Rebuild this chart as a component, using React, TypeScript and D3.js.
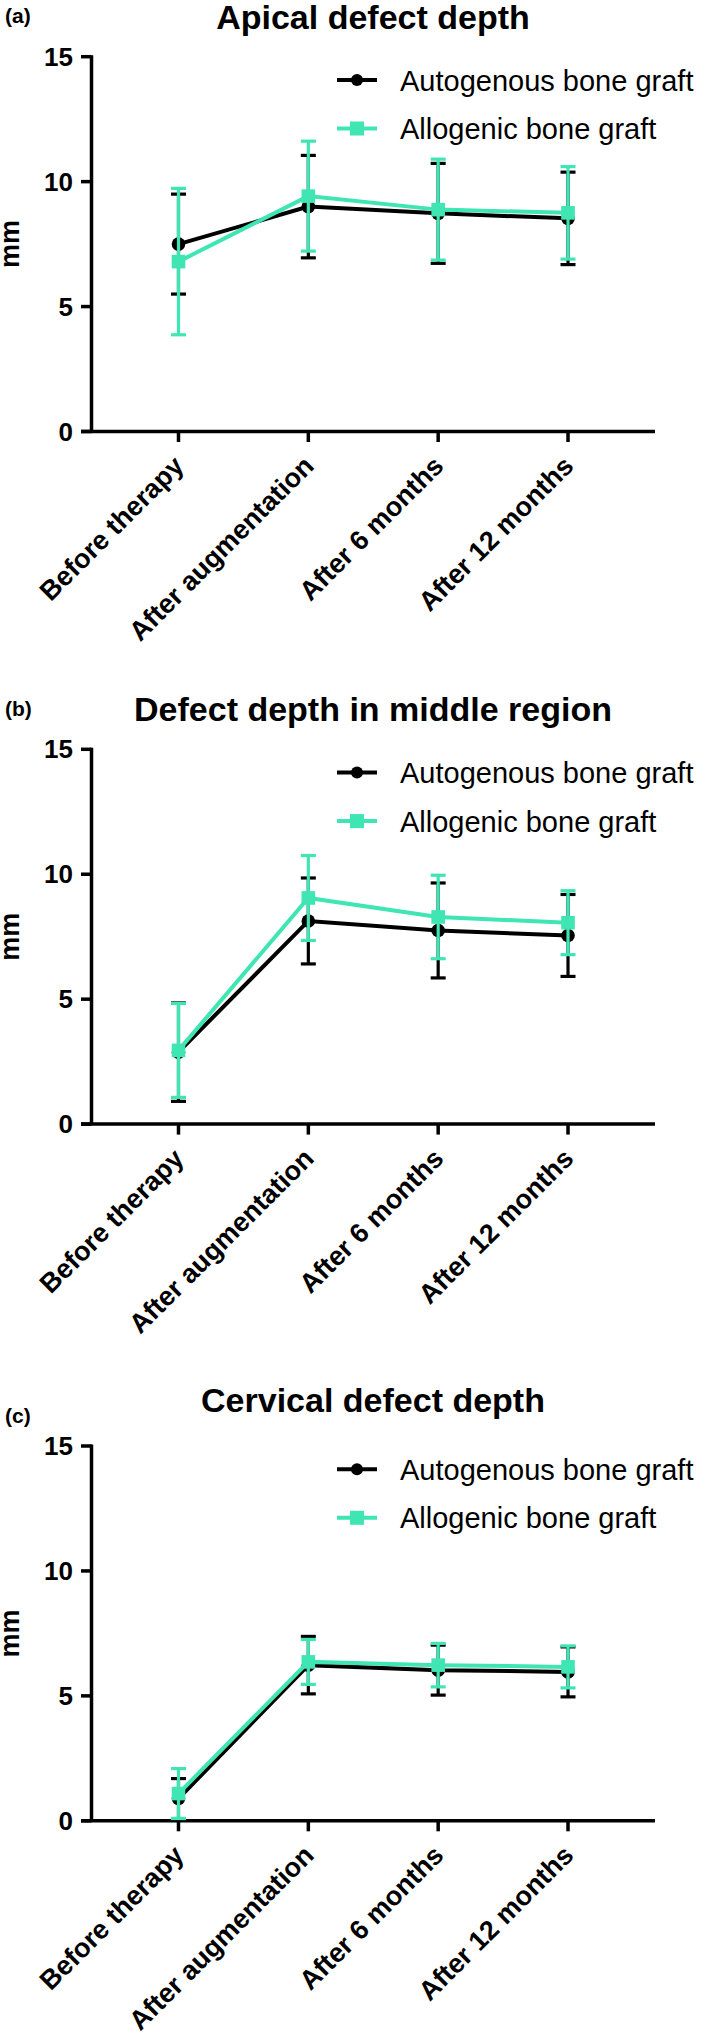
import React from "react";
import * as d3 from "d3";

const categories = ["Before therapy", "After augmentation", "After 6 months", "After 12 months"];
const seriesNames = ["Autogenous bone graft", "Allogenic bone graft"];
const yTicks = [0, 5, 10, 15];

// apical
const apicalAutoMean = [7.5, 9.0, 8.73, 8.53];
const apicalAutoSd = [2.0, 2.05, 2.0, 1.85];
const apicalAlloMean = [6.8, 9.42, 8.88, 8.75];
const apicalAlloSd = [2.93, 2.2, 2.02, 1.85];

// middle region
const middleAutoMean = [2.88, 8.13, 7.75, 7.55];
const middleAutoSd = [1.97, 1.72, 1.9, 1.64];
const middleAlloMean = [2.95, 9.05, 8.29, 8.06];
const middleAlloSd = [1.88, 1.7, 1.67, 1.28];

// cervical
const cervicalAutoMean = [0.89, 6.23, 6.03, 5.96];
const cervicalAutoSd = [0.8, 1.15, 1.0, 1.0];
const cervicalAlloMean = [1.09, 6.36, 6.23, 6.16];
const cervicalAlloSd = [1.0, 0.9, 0.87, 0.84];

const GREEN = "#3fe5b3";
const FONT = "'Liberation Sans', Arial, Helvetica, sans-serif";

const panels = [
    { tag: "(a)", title: "Apical defect depth", top: 0, titleY: 29, tagY: 23, auto: [apicalAutoMean, apicalAutoSd], allo: [apicalAlloMean, apicalAlloSd] },
    { tag: "(b)", title: "Defect depth in middle region", top: 692.6, titleY: 721, tagY: 716, auto: [middleAutoMean, middleAutoSd], allo: [middleAlloMean, middleAlloSd] },
    { tag: "(c)", title: "Cervical defect depth", top: 1389.3, titleY: 1412, tagY: 1423, auto: [cervicalAutoMean, cervicalAutoSd], allo: [cervicalAlloMean, cervicalAlloSd] },
];

const axisX = 91.5;
const axisEnd = 655;

const Panel = ({ p }) => {
    const y = d3.scaleLinear().domain([0, 15]).range([p.top + 431.5, p.top + 56.7]);
    const x = d3.scalePoint().domain(categories).range([axisX, axisEnd]).padding(0.67);
    const y0 = y(0);

    const drawSeries = (means, sds, color, shape) => {
        const pts = categories.map((c, i) => [x(c), y(means[i])]);
        const line = d3.line()(pts);
        return (
            <g>
                <path d={line} fill="none" stroke={color} strokeWidth={4} />
                {categories.map((c, i) => {
                    const cx = x(c);
                    const hi = y(means[i] + sds[i]);
                    const lo = y(Math.max(0, means[i] - sds[i]));
                    return (
                        <g key={c} stroke={color} strokeWidth={3.2}>
                            <line x1={cx} x2={cx} y1={hi} y2={lo} />
                            <line x1={cx - 7.5} x2={cx + 7.5} y1={hi} y2={hi} />
                            <line x1={cx - 7.5} x2={cx + 7.5} y1={lo} y2={lo} />
                        </g>
                    );
                })}
                {pts.map((d, i) =>
                    shape === "circle" ? (
                        <circle key={i} cx={d[0]} cy={d[1]} r={6.8} fill={color} />
                    ) : (
                        <rect key={i} x={d[0] - 6.8} y={d[1] - 6.8} width={13.6} height={13.6} fill={color} />
                    )
                )}
            </g>
        );
    };

    const legY1 = p.top + 80;
    const legY2 = p.top + 128.5;

    return (
        <g fontFamily={FONT}>
            <text x={5} y={p.tagY} fontSize={21} fontWeight="bold">{p.tag}</text>
            <text x={373} y={p.titleY} fontSize={34} fontWeight="bold" textAnchor="middle">{p.title}</text>

            {/* y axis */}
            <line x1={axisX} x2={axisX} y1={y(15) - 1.5} y2={y0} stroke="#000" strokeWidth={3.5} />
            {yTicks.map(t => (
                <g key={t}>
                    <line x1={81} x2={axisX} y1={y(t)} y2={y(t)} stroke="#000" strokeWidth={3.5} />
                    <text x={73} y={y(t) + 9} fontSize={26} fontWeight="bold" textAnchor="end">{t}</text>
                </g>
            ))}
            <text transform={`translate(19, ${(y(0) + y(15)) / 2}) rotate(-90)`} fontSize={27} fontWeight="bold" textAnchor="middle">mm</text>

            {/* x axis */}
            <line x1={81} x2={axisEnd} y1={y0} y2={y0} stroke="#000" strokeWidth={3.5} />
            {categories.map(c => (
                <g key={c}>
                    <line x1={x(c)} x2={x(c)} y1={y0} y2={y0 + 10.5} stroke="#000" strokeWidth={3.5} />
                    <text transform={`translate(${x(c) + 7}, ${y0 + 36}) rotate(-45)`} fontSize={27} fontWeight="bold" textAnchor="end">{c}</text>
                </g>
            ))}

            {drawSeries(p.auto[0], p.auto[1], "#000", "circle")}
            {drawSeries(p.allo[0], p.allo[1], GREEN, "square")}

            {/* legend */}
            <line x1={337} x2={377} y1={legY1} y2={legY1} stroke="#000" strokeWidth={4} />
            <circle cx={357} cy={legY1} r={6} fill="#000" />
            <text x={400} y={legY1 + 10.5} fontSize={29}>{seriesNames[0]}</text>
            <line x1={337} x2={377} y1={legY2} y2={legY2} stroke={GREEN} strokeWidth={4} />
            <rect x={350} y={legY2 - 7} width={14} height={14} fill={GREEN} />
            <text x={400} y={legY2 + 10.5} fontSize={29}>{seriesNames[1]}</text>
        </g>
    );
};

export default function App() {
    return (
        <svg width={709} height={2040} style={{ position: "absolute", left: 0, top: 0, background: "#fff" }}>
            <rect width={709} height={2040} fill="#fff" />
            {panels.map(p => <Panel key={p.tag} p={p} />)}
        </svg>
    );
}
